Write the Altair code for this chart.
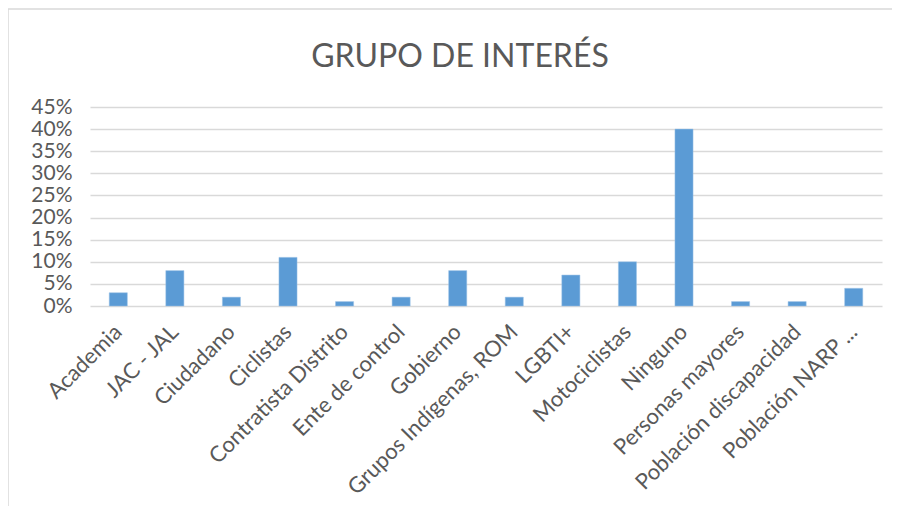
import altair as alt
import pandas as pd

categories = ["Academia", "JAC - JAL", "Ciudadano", "Ciclistas", "Contratista Distrito",
              "Ente de control", "Gobierno", "Grupos Indígenas, ROM", "LGBTI+",
              "Motociclistas", "Ninguno", "Personas mayores", "Población discapacidad",
              "Población NARP ..."]
values = [0.03, 0.08, 0.02, 0.11, 0.01, 0.02, 0.08, 0.02, 0.07, 0.10, 0.40, 0.01, 0.01, 0.04]
title_text = "GRUPO DE INTERÉS"

df = pd.DataFrame({"cat": categories, "val": values})

font = "Lato"
grey = "#595959"

bars = alt.Chart(df).mark_bar(color="#5B9BD5", stroke="#9DC3E6", strokeWidth=0.5).encode(
    x=alt.X("cat:N", sort=categories, title=None,
            scale=alt.Scale(paddingInner=0.68, paddingOuter=0.34),
            axis=alt.Axis(labelAngle=-45, labelAlign="right", labelBaseline="middle",
                          labelFontSize=22, labelColor=grey, labelFont=font,
                          ticks=False, domain=False, labelPadding=22,
                          labelOverlap=False, labelLimit=300)),
    y=alt.Y("val:Q", title=None,
            scale=alt.Scale(domain=[0, 0.45], nice=False),
            axis=alt.Axis(format=".0%", values=[i * 0.05 for i in range(10)],
                          labelFontSize=21, labelColor=grey, labelFont=font,
                          ticks=False, domain=False, labelPadding=18,
                          gridColor="#D9D9D9", gridWidth=1.5)),
)

single = pd.DataFrame({"t": [title_text]})
frame_top = alt.Chart(single).mark_rule(color="#D9D9D9", strokeWidth=1.5).encode(
    x=alt.value(-82), x2=alt.value(830), y=alt.value(-98))
frame_left = alt.Chart(single).mark_rule(color="#D9D9D9", strokeWidth=1.5).encode(
    x=alt.value(-82), y=alt.value(-98), y2=alt.value(420))
title = alt.Chart(single).mark_text(font=font, fontSize=32, color=grey,
                                    align="center", baseline="alphabetic").encode(
    text="t:N", x=alt.value(370), y=alt.value(-40))

chart = alt.layer(bars, frame_top, frame_left, title).properties(
    width=792, height=199,
    autosize=alt.AutoSizeParams(type="none"),
    padding={"left": 82, "top": 99, "right": 10, "bottom": 200},
).configure_view(stroke=None)

chart.save("out.html", embed_options={"renderer": "svg", "actions": False})
